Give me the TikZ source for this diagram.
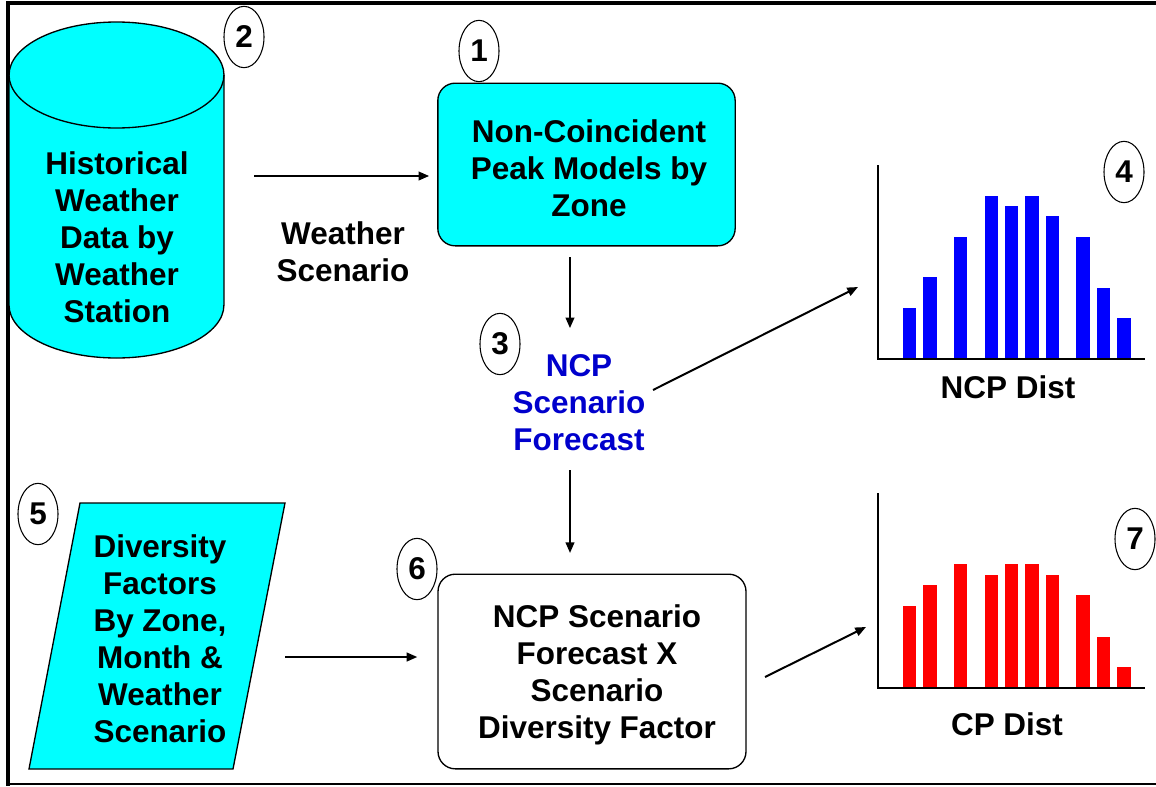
\documentclass[tikz,border=0pt]{standalone}
\usepackage{fontspec}
\setmainfont{Liberation Sans}
\usetikzlibrary{positioning}
\usetikzlibrary{shapes.geometric}
\usetikzlibrary{arrows.meta}
\definecolor{boxcyan}{RGB}{0,255,255}
\definecolor{ncpblue}{RGB}{0,0,204}

\begin{document}
\begin{tikzpicture}[
    x=0.75pt, y=0.75pt,
    every node/.style={font=\fontsize{23.6}{27.75}\selectfont\bfseries, align=center},
    num/.style={ellipse, draw, line width=0.8pt, inner sep=0pt, minimum width=30pt, minimum height=46pt},
    arr/.style={-{Triangle[length=8pt,width=6.5pt]}, line width=1.5pt},
    procbox/.style={draw, line width=1pt, rounded corners=13pt, minimum width=223pt, minimum height=122pt}
  ]
  \useasboundingbox (0,0) rectangle (1156,-786);
  % frame
  \draw[line width=3.5pt] (1156,-3) -- (8,-3) -- (8,-786);
  \draw[line width=1.5pt] (8,-784) -- (1156,-784);

  % weather data store
  \draw[line width=1pt, fill=boxcyan] (9,-75) -- (9,-305)
    arc[start angle=180, end angle=360, x radius=80.6pt, y radius=39.75pt] -- (224,-75)
    arc[start angle=0, end angle=180, x radius=80.6pt, y radius=39.75pt] -- cycle;
  \draw[line width=1pt] (9,-75) arc[start angle=180, end angle=360, x radius=80.6pt, y radius=39.75pt];
  \node (hist) at (117,-237) {Historical\\Weather\\Data by\\Weather\\Station};

  % diversity factors
  \draw[line width=1pt, fill=boxcyan] (80,-503) -- (285,-503) -- (233,-769) -- (29,-769) -- cycle;
  \node (df) at (160,-639) {Diversity\\Factors\\By Zone,\\Month \&\\Weather\\Scenario};

  \node[procbox, fill=boxcyan] (ncpm) at (586.5,-164.5) {};
  \node (ncpmtxt) at (589,-168) {Non-Coincident\\Peak Models by\\Zone};
  \node (wscen) at (343,-252) {Weather\\Scenario};
  \node[text=ncpblue] (ncp) at (579,-403) {NCP\\Scenario\\Forecast};
  \node[procbox, minimum width=231pt, minimum height=146pt] (prod) at (592,-671.5) {};
  \node (prodtxt) at (597,-675) {NCP Scenario\\Forecast X\\Scenario\\Diversity Factor};

  % distributions
  \foreach \s/\n in {0/5,1/8,2.5/12,4/16,5/15,6/16,7/14,8.5/12,9.5/7,10.5/4}
    \fill[blue] (903+20.4*\s,-359) rectangle ++(13.3,10.2*\n);
  \foreach \s/\n in {0/8,1/10,2.5/12,4/11,5/12,6/12,7/11,8.5/9,9.5/5,10.5/2}
    \fill[red] (903+20.4*\s,-688) rectangle ++(13.3,10.3*\n);
  \draw[line width=2pt] (878,-165) -- (878,-359) -- (1145,-359);
  \draw[line width=2pt] (878,-493) -- (878,-688) -- (1145,-688);
  \node (ncpd) at (1008,-387) {NCP Dist};
  \node (cpd) at (1007,-724) {CP Dist};

  % step numbers
  \node[num] (n1) at (479,-51) {1};
  \node[num] (n2) at (244,-37) {2};
  \node[num] (n3) at (500,-344) {3};
  \node[num] (n4) at (1124,-172) {4};
  \node[num] (n5) at (38,-514) {5};
  \node[num] (n6) at (417,-569) {6};
  \node[num] (n7) at (1135,-539) {7};

  % flow
  \coordinate (ws) at (254,-176);
  \coordinate (s3) at (653,-390);
  \coordinate (t4) at (858,-287);
  \coordinate (s5) at (285,-657);
  \coordinate (t6) at (570,-553);
  \coordinate (s6) at (765,-677);
  \coordinate (t7) at (866,-627);
  \draw[arr, shorten >=6pt] (ws) -- (ws -| ncpm.west);
  \draw[arr] ([xshift=-12.4pt,yshift=-8pt]ncpm.south) -- ++(0,-71);
  \draw[arr] (s3) -- (t4);
  \draw[arr] ([yshift=62.25pt]t6) -- (t6);
  \draw[arr, shorten >=15pt] (s5) -- (s5 -| prod.west);
  \draw[arr] (s6) -- (t7);
\end{tikzpicture}
\end{document}
